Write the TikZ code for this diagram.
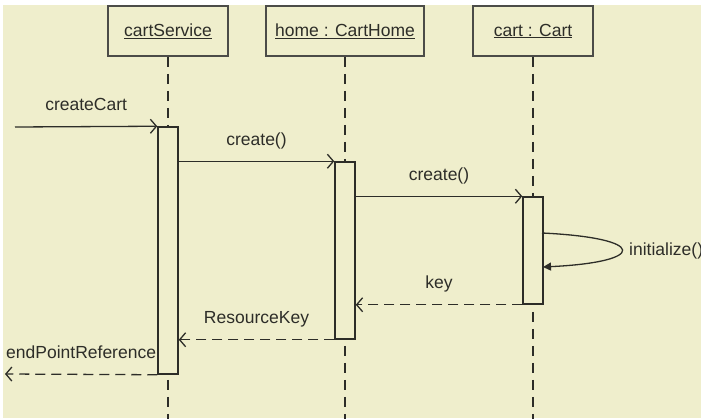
\documentclass[tikz,border=0pt]{standalone}
\usepackage{fontspec}
\setmainfont{Liberation Sans}
\usetikzlibrary{arrows.meta}
\usetikzlibrary{positioning}
\usetikzlibrary{calc}
\definecolor{paper}{RGB}{239,238,204}
\definecolor{ink}{RGB}{45,45,40}
\tikzstyle{objbox}=[rectangle,draw=ink!85,line width=1.8pt,fill=paper,minimum height=50pt,inner sep=0pt,font=\fontsize{17.5}{19}\selectfont,text=ink]
\tikzstyle{actbar}=[rectangle,draw=ink,line width=1.5pt,fill=paper,minimum width=20pt,inner sep=0pt]
\tikzstyle{lifeline}=[draw=ink,line width=1.5pt,dash pattern=on 10pt off 7pt]
\tikzstyle{call}=[draw=ink,line width=1.3pt,-{Straight Barb[length=6pt,width=14pt]}]
\tikzstyle{reply}=[call,dash pattern=on 10pt off 6pt]
\tikzstyle{selfcall}=[draw=ink,line width=1.3pt,-{Triangle[length=8pt,width=8pt]}]
\tikzstyle{msg}=[font=\fontsize{17.5}{19}\selectfont,text=ink,anchor=base,inner sep=0pt]

\begin{document}
\begin{tikzpicture}[x=1pt,y=-1pt]
    % Paper and frame
    \useasboundingbox (0,0) rectangle (701,419);
    \fill[paper] (3,5) rectangle (701,418);
    \coordinate (bottom) at (0,419);

    % Object boxes with their lifelines
    \foreach \name/\x/\w/\label in {cartService/168/120/cartService, home/345/158/home : CartHome, cart/533/120/cart : Cart}
    {
        \node[objbox,minimum width=\w pt] (\name) at (\x,31) {\underline{\label}};
        \draw[lifeline] (\name.south) -- (\name.south |- bottom);
    }

    % Activation bars
    \foreach \name/\x/\h in {cartServiceAct/168/247, homeAct/345/177, cartAct/533/107}
        \node[actbar,minimum height=\h pt] (\name) at (\x,250.5) {};

    % Free ends and the self call
    \coordinate (caller) at (15,127);
    \coordinate (exit) at (5,374);
    \coordinate (loopOut) at (542,233);
    \coordinate (loopIn) at (543,267);

    % Calls
    \draw[call] (caller) -- node[msg,yshift=16pt] {createCart} (cartServiceAct.north west);
    \draw[call] (cartServiceAct.east |- homeAct.north) -- node[msg,yshift=16pt] {create()} (homeAct.north west);
    \draw[call] (homeAct.east |- cartAct.north) -- node[msg,yshift=16pt] {create()} (cartAct.north west);
    \draw[selfcall] (loopOut) .. controls (648,238) and (648,262) .. (loopIn);
    \node[msg,anchor=base west] (init) at (629,256) {initialize()};

    % Replies
    \draw[reply] (cartAct.south west) -- node[msg,yshift=16pt] {key} (cartAct.south west -| homeAct.east);
    \draw[reply] (homeAct.south west) -- node[msg,yshift=16pt] {ResourceKey} (homeAct.south west -| cartServiceAct.east);
    \draw[reply] (cartServiceAct.south west) -- node[msg,yshift=16pt] {endPointReference} (exit);
\end{tikzpicture}
\end{document}
